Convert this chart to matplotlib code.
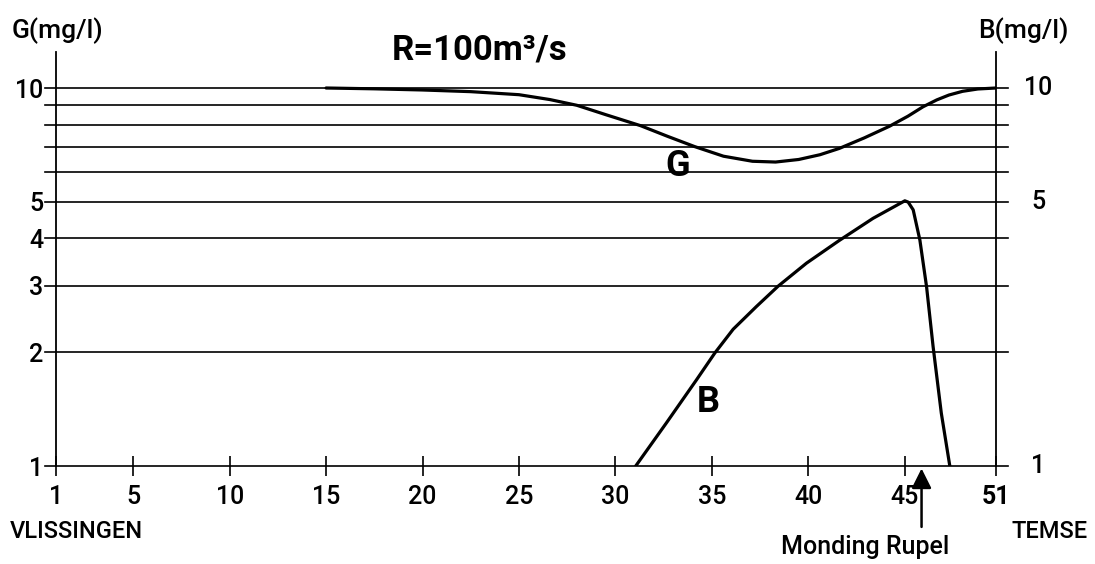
import numpy as np
import matplotlib
matplotlib.use("Agg")
import matplotlib.pyplot as plt
import matplotlib.transforms as mtransforms
from matplotlib.ticker import NullLocator

plt.rcParams['font.family'] = ['Roboto', 'DejaVu Sans']

# --- data (x = km from Vlissingen, y = mg/l) ---
g_km = [15.0, 17.5, 20.0, 22.5, 25.0, 26.6, 28.0, 29.5, 31.3, 32.7, 34.1, 35.6,
        37.1, 38.3, 39.5, 40.6, 41.6, 42.9, 44.2, 45.2, 46.2, 47.1, 47.9, 48.8,
        49.8, 51.0]
g_val = [10.0, 9.95, 9.88, 9.78, 9.6, 9.32, 9.0, 8.5, 7.95, 7.45, 7.0, 6.6,
         6.4, 6.37, 6.47, 6.66, 6.92, 7.38, 7.92, 8.42, 8.92, 9.3, 9.58, 9.8,
         9.94, 10.0]

b_km = [31.05, 32.64, 34.2, 35.15, 36.1, 37.3, 38.43, 39.9, 41.6, 43.35, 45.0,
        45.22, 45.55, 45.99, 46.43, 46.86, 47.4, 47.96]
b_val = [1.0, 1.30, 1.69, 1.99, 2.30, 2.64, 2.99, 3.44, 3.95, 4.52, 5.03,
         4.99, 4.76, 3.96, 2.98, 2.07, 1.38, 1.0]

x_ticks = [1, 5, 10, 15, 20, 25, 30, 35, 40, 45, 51]
y_grid = [2, 3, 4, 5, 6, 7, 8, 9, 10]
y_left_ticks = [1, 2, 3, 4, 5, 10]
y_right_ticks = [1, 5, 10]

# the original drawing squeezes the last stretch (45-51 km)
SQ = 15.2 / 19.3


def fwd(x):
    x = np.asarray(x, dtype=float)
    return np.where(x <= 45, x - 1, 44 + (x - 45) * SQ)


def inv(u):
    u = np.asarray(u, dtype=float)
    return np.where(u <= 44, u + 1, 45 + (u - 44) / SQ)


W, H = 1095, 564
fig = plt.figure(figsize=(W / 100, H / 100), dpi=100)
ax = fig.add_axes([56 / W, 1 - 466 / H, 940 / W, 414 / H])

ax.set_xscale('function', functions=(fwd, inv))
ax.set_yscale('log')
ax.set_xlim(1, 51)
ax.set_ylim(1, 10 ** ((466 - 52) / 378))

for v in y_grid + [1]:
    ax.axhline(v, xmin=-0.012, xmax=1.013, color='black', lw=1.2, clip_on=False, zorder=1)

for xs, ys in [(g_km, g_val), (b_km, b_val)]:
    ax.plot(xs, ys, color='black', lw=2.3, solid_capstyle='round',
            solid_joinstyle='round', zorder=3)

for s in ['top', 'bottom']:
    ax.spines[s].set_visible(False)
for s in ['left', 'right']:
    ax.spines[s].set_linewidth(1.3)

ax.set_xticks(x_ticks)
ax.set_xticklabels([str(t) for t in x_ticks])
ax.xaxis.set_minor_locator(NullLocator())
ax.tick_params(axis='x', direction='inout', length=15, width=1.2, pad=6,
               labelsize=18)
for lab in ax.get_xticklabels():
    lab.set_fontweight('medium')
ax.get_xticklabels()[-1].set_fontweight('bold')

ax.set_yticks(y_left_ticks)
ax.set_yticklabels([str(t) for t in y_left_ticks], fontweight='medium')
ax.yaxis.set_minor_locator(NullLocator())
ax.tick_params(axis='y', length=0, pad=9, labelsize=18)

trans = mtransforms.blended_transform_factory(ax.transAxes, ax.transData)
for v in y_right_ticks:
    ax.text(1.045, v, str(v), transform=trans, ha='center', va='center',
            fontsize=18, fontweight='medium')

ax.text(33.2, 6.2, 'G', ha='center', va='center', fontsize=26, fontweight='bold')
ax.text(34.8, 1.48, 'B', ha='center', va='center', fontsize=26, fontweight='bold')

# arrow pointing at the Rupel mouth
ax.annotate('', xy=(46.1, 0.985), xytext=(46.1, 0.69),
            xycoords='data', textcoords='data', annotation_clip=False,
            arrowprops=dict(arrowstyle='-|>', color='black', lw=1.8,
                            mutation_scale=30, shrinkA=0, shrinkB=0))

fig.text(480 / W, 1 - 60 / H, 'R=100m³/s', ha='center', va='baseline',
         fontsize=25, fontweight='bold')
fig.text(12 / W, 1 - 38 / H, 'G(mg/l)', ha='left', va='baseline', fontsize=19,
         fontweight='medium')
fig.text(1068 / W, 1 - 38 / H, 'B(mg/l)', ha='right', va='baseline', fontsize=19,
         fontweight='medium')
fig.text(10 / W, 1 - 538 / H, 'VLISSINGEN', ha='left', va='baseline', fontsize=17,
         fontweight='medium')
fig.text(1088 / W, 1 - 538 / H, 'TEMSE', ha='right', va='baseline', fontsize=17,
         fontweight='medium')
fig.text(865 / W, 1 - 554 / H, 'Monding Rupel', ha='center', va='baseline',
         fontsize=18, fontweight='medium')

fig.savefig('out.png', dpi=100)
